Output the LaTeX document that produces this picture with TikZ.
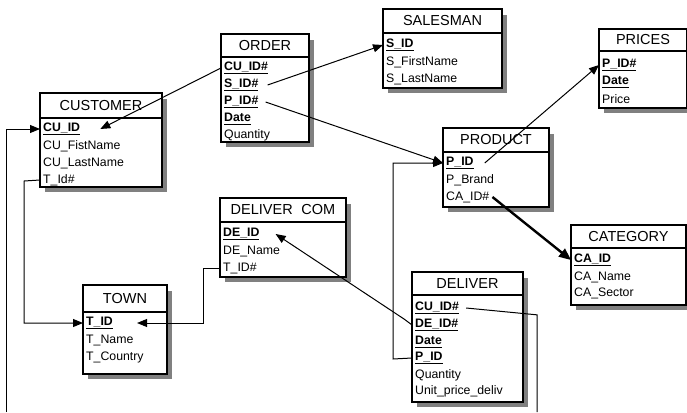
\documentclass[tikz,border=0pt]{standalone}
\usepackage{fontspec}
\setmainfont{Liberation Sans}
\usetikzlibrary{arrows.meta}
\newcommand\kf[1]{\textbf{\setbox0\hbox{#1}\rlap{\rule[-2.7pt]{\wd0}{1pt}}\box0}}
\newcommand\ent[7]{%
  \fill[shadowc] (#2+5,#3+6) rectangle (#4+5,#6+5);
  \draw[boxs] (#2,#3) rectangle (#4,#6);
  \draw[boxs] (#2,#5) -- (#4,#5);
  \node[titl] (#1) at ({(#2+#4)/2},{(#3+#5)/2}) {#7};
}
\tikzset{
  shadowc/.style={fill=black!50},
  boxs/.style={draw=black,line width=1.6pt,fill=white},
  titl/.style={font=\fontsize{14.5}{15}\selectfont,inner sep=0pt},
  row/.style={anchor=west,inner xsep=0pt,inner ysep=1pt,font=\fontsize{12.3}{13}\selectfont},
  conn/.style={draw=black,line width=1pt},
  arr/.style={conn,-{Triangle[length=10pt,width=8pt]}},
}
\begin{document}
\begin{tikzpicture}[x=1pt,y=-1pt]
\useasboundingbox (0,0) rectangle (687,412);
% CUSTOMER
\ent{cu}{40}{93}{162}{118}{187}{CUSTOMER}
\node[row] (cu1) at (43,129) {\kf{CU\_ID}};
\node[row] (cu2) at (43,146) {CU\_FistName};
\node[row] (cu3) at (43,163) {CU\_LastName};
\node[row] (cu4) at (43,180) {T\_Id\#};
% ORDER
\ent{or}{221}{34}{309}{57}{142}{ORDER}
\node[row] (or1) at (224,68) {\kf{CU\_ID\#}};
\node[row] (or2) at (224,85) {\kf{S\_ID\#}};
\node[row] (or3) at (224,102) {\kf{P\_ID\#}};
\node[row] (or4) at (224,119) {\kf{Date}};
\node[row] (or5) at (224,135) {Quantity};
% SALESMAN
\ent{sa}{383}{9}{502}{33}{88}{SALESMAN}
\node[row] (sa1) at (386,45) {\kf{S\_ID}};
\node[row] (sa2) at (386,62) {S\_FirstName};
\node[row] (sa3) at (386,79) {S\_LastName};
% PRICES
\ent{pc}{599}{29}{687}{51}{108}{PRICES}
\node[row] (pc1) at (602,65) {\kf{P\_ID\#}};
\node[row] (pc2) at (602,82) {\kf{Date}};
\node[row] (pc3) at (602,99) {Price};
% PRODUCT
\ent{pr}{443}{128}{549}{152}{207}{PRODUCT}
\node[row] (pr1) at (446,163) {\kf{P\_ID}};
\node[row] (pr2) at (446,180) {P\_Brand};
\node[row] (pr3) at (446,197) {CA\_ID\#};
% CATEGORY
\ent{ca}{571}{225}{686}{248}{305}{CATEGORY}
\node[row] (ca1) at (574,260) {\kf{CA\_ID}};
\node[row] (ca2) at (574,277) {CA\_Name};
\node[row] (ca3) at (574,293) {CA\_Sector};
% DELIVER COM
\ent{dc}{220}{198}{346}{222}{277}{DELIVER\hspace{0.6em}COM}
\node[row] (dc1) at (223,234) {\kf{DE\_ID}};
\node[row] (dc2) at (223,251) {DE\_Name};
\node[row] (dc3) at (223,268) {T\_ID\#};
% TOWN
\ent{to}{83}{285}{167}{312}{374}{TOWN}
\node[row] (to1) at (86,323) {\kf{T\_ID}};
\node[row] (to2) at (86,340) {T\_Name};
\node[row] (to3) at (86,357) {T\_Country};
% DELIVER
\ent{de}{412}{272}{523}{295}{402}{DELIVER}
\node[row] (de1) at (415,308) {\kf{CU\_ID\#}};
\node[row] (de2) at (415,325) {\kf{DE\_ID\#}};
\node[row] (de3) at (415,342) {\kf{Date}};
\node[row] (de4) at (415,358) {\kf{P\_ID}};
\node[row] (de5) at (415,375) {Quantity};
\node[row] (de6) at (415,391) {Unit\_price\_deliv};
% free ends at the bottom edge
\coordinate (botL) at (6,412);
\coordinate (botR) at (537,412);
% connectors
\draw[arr] ([xshift=-3pt]or1.west) -- ([xshift=20pt]cu1.east);
\draw[arr] ([xshift=9pt]or2.east) -- ([xshift=-3pt]sa1.west);
\draw[arr] ([xshift=7pt]or3.east) -- ([xshift=-3pt]pr1.west);
\draw[arr] ([xshift=11pt]pr1.east) -- ([xshift=-3pt]pc1.west);
\draw[draw=black,line width=2.4pt,-{Triangle[length=12pt,width=10pt]}] ([xshift=3pt]pr3.east) -- ([xshift=-3pt]ca1.west);
\draw[arr] ([xshift=-3pt]dc3.west) -- ++(-17,0) |- ([xshift=24pt]to1.east);
\draw[arr] ([xshift=-3pt]cu4.west) -- ++(-16,1) |- ([xshift=-3pt]to1.west);
\draw[arr] (botL) |- ([xshift=-3pt]cu1.west);
\draw[conn] ([xshift=7pt]de1.east) -- (botR |- de1.south) -- (botR);
\draw[arr] ([xshift=-3pt]de2.west) -- ++(-8,-6) -- ([xshift=16pt]dc1.east);
\draw[arr] ([xshift=-3pt]de4.west) -- ++(-19,1) |- ([xshift=-3pt]pr1.west);
\end{tikzpicture}
\end{document}
